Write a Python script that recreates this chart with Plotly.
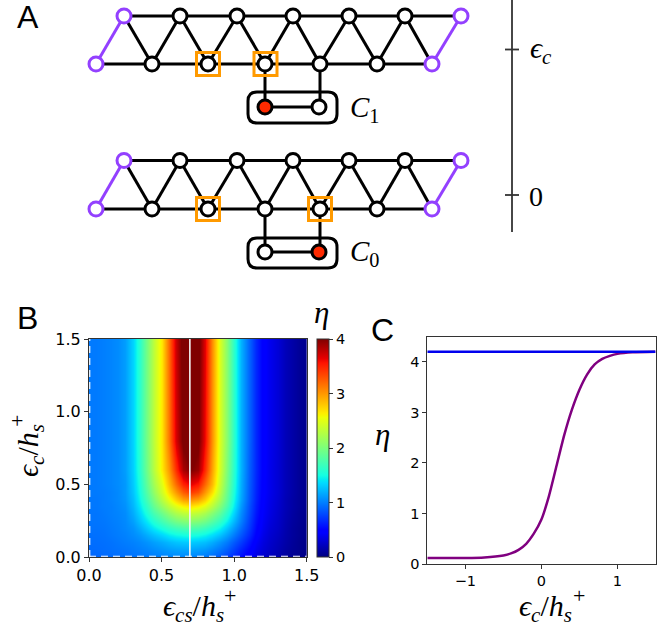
import plotly.graph_objects as go

W, H = 664, 626

# Panel A: schematic node positions (schematic units)
top_x = [124, 180, 237, 293, 349, 405, 461]
bottom_x = [96, 152, 208, 265, 320, 377, 432]
dimer_x = [265, 319]
upper_rows = {"top": 16, "bottom": 64, "dimer": 107}
lower_rows = {"top": 160.5, "bottom": 209, "dimer": 252}
upper_marked = [208, 265.5]
lower_marked = [208, 320]
upper_red = 265
lower_red = 319
energy_axis_x = 512
energy_axis_y = [0, 232]
energy_ticks = [49.5, 195]
box_x = [248, 337]
upper_box_y = [92, 123]
lower_box_y = [238, 268]

# Panel B: eta read at these columns and rows
cs_values = [0.00, 0.05, 0.10, 0.15, 0.20, 0.25, 0.30, 0.35, 0.40, 0.45, 0.50,
             0.55, 0.60, 0.65, 0.70, 0.75, 0.80, 0.85, 0.90, 0.95, 1.00,
             1.05, 1.10, 1.15, 1.20, 1.25, 1.30, 1.35, 1.40, 1.45, 1.50]
c_values = [0.0, 0.05, 0.1, 0.15, 0.2, 0.25, 0.3, 0.35, 0.4, 0.45, 0.5, 0.6, 0.8, 1.5]
eta_00 = [.90,.90,.91,.92,.93,.94,.95,.96,.97,.99,1.0,1.02,1.03,1.03,1.02,1.0,.97,.92,.84,.75,.65,.54,.44,.34,.26,.21,.16,.11,.07,.04,.03]
eta_05 = [.92,.92,.93,.94,.95,.96,.98,1.0,1.02,1.05,1.08,1.11,1.13,1.14,1.14,1.12,1.09,1.03,.95,.86,.74,.62,.5,.38,.3,.24,.18,.12,.08,.05,.03]
eta_10 = [.93,.93,.94,.95,.97,.99,1.01,1.04,1.08,1.13,1.18,1.23,1.27,1.29,1.3,1.28,1.25,1.18,1.08,.98,.85,.73,.58,.43,.33,.26,.2,.14,.09,.05,.03]
eta_15 = [.94,.94,.95,.97,.99,1.01,1.05,1.1,1.18,1.26,1.34,1.42,1.47,1.5,1.52,1.5,1.45,1.37,1.26,1.13,.98,.83,.66,.48,.36,.28,.22,.15,.1,.06,.04]
eta_20 = [.95,.95,.96,.98,1,1.03,1.08,1.18,1.3,1.42,1.53,1.63,1.7,1.75,1.77,1.75,1.68,1.58,1.45,1.28,1.1,.92,.72,.52,.39,.3,.24,.16,.1,.06,.04]
eta_25 = [.96,.96,.97,.99,1.01,1.04,1.13,1.27,1.42,1.58,1.73,1.86,1.97,2.03,2.06,2.03,1.95,1.82,1.65,1.45,1.22,1.0,.76,.55,.41,.32,.25,.17,.11,.07,.04]
eta_30 = [.96,.96,.98,1,1.02,1.05,1.18,1.35,1.55,1.75,1.93,2.1,2.24,2.32,2.36,2.32,2.22,2.05,1.85,1.6,1.33,1.05,.8,.58,.43,.34,.26,.18,.12,.07,.05]
eta_35 = [.97,.97,.99,1,1.03,1.07,1.22,1.42,1.65,1.9,2.13,2.33,2.5,2.62,2.68,2.62,2.5,2.3,2.03,1.75,1.42,1.1,.82,.6,.44,.35,.27,.19,.13,.08,.05]
eta_40 = [.97,.97,.99,1.01,1.04,1.09,1.25,1.48,1.75,2.02,2.3,2.55,2.78,2.98,3.05,2.98,2.78,2.5,2.18,1.85,1.48,1.15,.85,.62,.45,.36,.28,.19,.13,.08,.05]
eta_45 = [.98,.98,.99,1.01,1.04,1.1,1.28,1.52,1.82,2.12,2.42,2.72,3.0,3.25,3.4,3.3,3.0,2.7,2.28,1.9,1.52,1.17,.86,.63,.46,.37,.29,.2,.14,.08,.05]
eta_50 = [.98,.98,1,1.02,1.05,1.1,1.3,1.55,1.88,2.2,2.5,2.85,3.2,3.5,3.65,3.55,3.2,2.85,2.35,1.95,1.55,1.18,.87,.64,.46,.37,.29,.2,.14,.08,.05]
eta_60 = [.98,.98,1,1.02,1.05,1.12,1.32,1.6,1.95,2.3,2.65,3.0,3.45,3.85,4.0,3.9,3.45,2.95,2.42,2.0,1.58,1.2,.88,.65,.47,.37,.29,.2,.14,.08,.05]
eta_80 = [.98,.98,1,1.02,1.05,1.12,1.33,1.62,1.98,2.33,2.68,3.15,3.7,4.05,4.2,4.05,3.6,3.03,2.45,2.05,1.6,1.2,.9,.65,.47,.38,.3,.2,.14,.08,.05]
eta_top = [.98,.98,1,1.02,1.05,1.12,1.33,1.62,1.98,2.33,2.68,3.2,3.75,4.1,4.3,4.1,3.65,3.05,2.45,2.05,1.6,1.2,.9,.65,.47,.38,.3,.2,.14,.08,.05]
eta_grid = [eta_00, eta_05, eta_10, eta_15, eta_20, eta_25, eta_30, eta_35,
            eta_40, eta_45, eta_50, eta_60, eta_80, eta_top]
marker_cs = 0.695
edge_mark = 0.005

# Panel C
ec_values = [-1.5, -1.25, -1.0, -0.75, -0.5, -0.4, -0.3, -0.2, -0.1, 0.0, 0.1, 0.2,
             0.3, 0.4, 0.5, 0.6, 0.7, 0.8, 0.9, 1.0, 1.2, 1.5]
eta_curve = [0.12, 0.12, 0.12, 0.13, 0.17, 0.21, 0.28, 0.40, 0.60, 0.88, 1.35, 1.95,
             2.55, 3.05, 3.45, 3.75, 3.95, 4.06, 4.12, 4.16, 4.19, 4.20]
eta_flat = [4.2, 4.2]
ec_flat = [-1.5, 1.5]

JET = [[0, "rgb(0,0,128)"], [.11, "rgb(0,0,255)"], [.125, "rgb(0,0,255)"],
       [.34, "rgb(0,219,255)"], [.35, "rgb(0,230,247)"], [.375, "rgb(21,255,226)"],
       [.64, "rgb(238,255,8)"], [.65, "rgb(247,246,0)"], [.66, "rgb(255,236,0)"],
       [.89, "rgb(255,19,0)"], [.91, "rgb(232,0,0)"], [1, "rgb(128,0,0)"]]

PURPLE = "#9340ff"
ORANGE = "#ff9a00"
RED = "#ff2a00"
DARK = "#333333"
SANS = "DejaVu Sans"
SERIF = "Liberation Serif"

fig = go.Figure()


def line(xs, ys, color="black", width=3):
    fig.add_trace(go.Scatter(x=xs, y=ys, mode="lines", xaxis="x3", yaxis="y3",
                             line=dict(color=color, width=width), hoverinfo="skip"))


def molecule(rows, marked, red, box_y):
    t, b, d = rows["top"], rows["bottom"], rows["dimer"]
    line(top_x, [t] * len(top_x))
    line(bottom_x, [b] * len(bottom_x))
    for i in range(len(top_x) - 1):
        line([top_x[i], bottom_x[i + 1]], [t, b])
    for i in range(1, len(top_x) - 1):
        line([bottom_x[i], top_x[i]], [b, t])
    line([bottom_x[0], top_x[0]], [b, t], PURPLE)
    line([bottom_x[-1], top_x[-1]], [b, t], PURPLE)
    line([dimer_x[0], dimer_x[0]], [b, d])
    line([320, 320], [b, d])
    line(dimer_x, [d, d])
    fig.add_trace(go.Scatter(x=marked, y=[b, b], mode="markers", xaxis="x3", yaxis="y3",
                             marker=dict(symbol="square-open", size=23, color=ORANGE,
                                         line=dict(color=ORANGE, width=3)), hoverinfo="skip"))
    fig.add_trace(go.Scatter(x=top_x[1:-1] + bottom_x[1:-1], y=[t] * 5 + [b] * 5,
                             mode="markers", xaxis="x3", yaxis="y3",
                             marker=dict(size=14, color="white", line=dict(color="black", width=3)),
                             hoverinfo="skip"))
    fig.add_trace(go.Scatter(x=[top_x[0], top_x[-1], bottom_x[0], bottom_x[-1]], y=[t, t, b, b],
                             mode="markers", xaxis="x3", yaxis="y3",
                             marker=dict(size=14, color="white", line=dict(color=PURPLE, width=3)),
                             hoverinfo="skip"))
    fig.add_trace(go.Scatter(x=dimer_x, y=[d, d], mode="markers", xaxis="x3", yaxis="y3",
                             marker=dict(size=14, color=[RED if v == red else "white" for v in dimer_x],
                                         line=dict(color="black", width=3)), hoverinfo="skip"))
    x0, x1 = box_x
    y0, y1 = box_y
    r = 9
    fig.add_shape(type="path", xref="x3", yref="y3", line=dict(color="black", width=3),
                  path=f"M{x0+r},{y0} L{x1-r},{y0} Q{x1},{y0} {x1},{y0+r} L{x1},{y1-r} Q{x1},{y1} {x1-r},{y1} "
                       f"L{x0+r},{y1} Q{x0},{y1} {x0},{y1-r} L{x0},{y0+r} Q{x0},{y0} {x0+r},{y0} Z")


molecule(upper_rows, upper_marked, upper_red, upper_box_y)
molecule(lower_rows, lower_marked, lower_red, lower_box_y)

line([energy_axis_x, energy_axis_x], energy_axis_y, DARK, 1.8)
for tick in energy_ticks:
    line([energy_axis_x - 7, energy_axis_x + 7], [tick, tick], DARK, 1.8)

# Panel B
fig.add_trace(go.Heatmap(
    x=cs_values, y=c_values, z=eta_grid, xaxis="x", yaxis="y",
    colorscale=JET, zmin=0, zmax=4, zsmooth="best", hoverinfo="skip",
    colorbar=dict(x=316.7 / W, xanchor="left", xpad=0, ypad=0,
                  y=1 - 339 / H, yanchor="top", len=218, lenmode="pixels",
                  thickness=11.6, thicknessmode="pixels",
                  tickvals=[0, 1, 2, 3, 4], ticks="outside", ticklen=4, tickwidth=1,
                  tickcolor=DARK, outlinecolor=DARK, outlinewidth=1,
                  tickfont=dict(family=SANS, size=14.5, color="black"))))
fig.add_trace(go.Scatter(x=[marker_cs, marker_cs], y=[0, 1.5], mode="lines", xaxis="x", yaxis="y",
                         line=dict(color="#f4f4f4", width=1.6), hoverinfo="skip"))
fig.add_trace(go.Scatter(x=[0, 1.5], y=[edge_mark, edge_mark], mode="lines", xaxis="x", yaxis="y",
                         line=dict(color="white", width=1.2, dash="7px,5px"), hoverinfo="skip"))
fig.add_trace(go.Scatter(x=[edge_mark, edge_mark], y=[0, 1.5], mode="lines", xaxis="x", yaxis="y",
                         line=dict(color="white", width=1.2, dash="7px,5px"), hoverinfo="skip"))

# Panel C
fig.add_trace(go.Scatter(x=ec_values, y=eta_curve, mode="lines", xaxis="x2", yaxis="y2",
                         line=dict(color="#800080", width=2.5, shape="spline", smoothing=0.6),
                         hoverinfo="skip"))
fig.add_trace(go.Scatter(x=ec_flat, y=eta_flat, mode="lines", xaxis="x2", yaxis="y2",
                         line=dict(color="#0000ee", width=2.5), hoverinfo="skip"))


def note(text, x, y, size, family=SERIF, angle=0, color="black"):
    fig.add_annotation(text=text, x=x / W, y=1 - y / H, xref="paper", yref="paper",
                       xanchor="center", yanchor="middle", showarrow=False, textangle=angle,
                       font=dict(family=family, size=size, color=color))


note("A", 28, 17, 32, "Liberation Sans")
note("B", 28, 318, 32, "Liberation Sans")
note("C", 383, 330, 32, "Liberation Sans")
note("<i>C</i><sub>1</sub>", 364, 109, 29)
note("<i>C</i><sub>0</sub>", 364, 253, 29)
note("<i>ϵ<sub>c</sub></i>", 541, 50, 30)
note("0", 536, 196, 28)
note("<i>η</i>", 321, 312, 31)
note("<i>η</i>", 383, 434, 31)
note("<i>ϵ<sub>cs</sub></i>/<i>h<sub>s</sub></i>", 193, 608, 30)
note("+", 230, 595, 22)
note("<i>ϵ<sub>c</sub></i>/<i>h<sub>s</sub></i>", 545, 608, 30)
note("+", 579, 595, 22)
note("<i>ϵ<sub>c</sub></i>/<i>h<sub>s</sub></i>", 30, 451, 30, angle=-90)
note("+", 17, 420, 22)


def axis(domain, rng, vals, size, text=None, anchor="x"):
    return dict(domain=domain, range=rng, tickvals=vals, ticktext=text, anchor=anchor, ticks="outside",
                ticklen=4, tickwidth=1, tickcolor=DARK, showline=True, linecolor=DARK, linewidth=1,
                mirror=True, showgrid=False, zeroline=False,
                tickfont=dict(family=SANS, size=size, color="black"))


fig.update_layout(
    width=W, height=H, margin=dict(l=0, r=0, t=0, b=0, autoexpand=False), showlegend=False,
    paper_bgcolor="white", plot_bgcolor="white",
    xaxis=axis([89 / W, 306.7 / W], [0, 1.5], [0, .5, 1, 1.5], 16, ["0.0", "0.5", "1.0", "1.5"], "y"),
    yaxis=axis([1 - 557 / H, 1 - 339 / H], [0, 1.5], [0, .5, 1, 1.5], 16, ["0.0", "0.5", "1.0", "1.5"], "x"),
    xaxis2=axis([427.3 / W, 655.5 / W], [-1.5, 1.5], [-1, 0, 1], 14.5, None, "y2"),
    yaxis2=axis([1 - 564 / H, 1 - 336.7 / H], [0, 4.5], [0, 1, 2, 3, 4], 14.5, None, "x2"),
    xaxis3=dict(domain=[0, 1], range=[0, W], visible=False, anchor="y3"),
    yaxis3=dict(domain=[1 - 290 / H, 1], range=[290, 0], visible=False, anchor="x3"),
)

fig.write_html("out.html", config={"displayModeBar": False, "responsive": False},
               default_width="664px", default_height="626px",
               post_script="document.body.style.margin='0';document.body.style.overflow='hidden';")
